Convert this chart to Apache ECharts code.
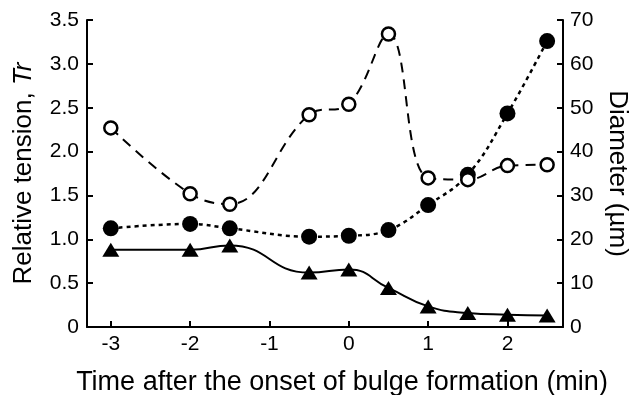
<!DOCTYPE html>
<html>
<head>
<meta charset="utf-8">
<style>
  html, body { margin: 0; padding: 0; background: #fff; }
  #chart { width: 631px; height: 395px; }
</style>
<script src="https://cdn.jsdelivr.net/npm/echarts@6/dist/echarts.min.js"></script>
</head>
<body>
<div id="chart"></div>
<script>
// time after onset (min)
const times = [-3, -2, -1.5, -0.5, 0, 0.5, 1, 1.5, 2, 2.5];
// relative tension Tr (open circles, left axis)
const tension = [2.27, 1.52, 1.40, 2.42, 2.54, 3.34, 1.70, 1.68, 1.84, 1.85];
// diameters in um (right axis)
const bulgeDiameter = [22.5, 23.5, 22.5, 20.6, 20.8, 22.1, 27.8, 34.7, 48.7, 65.2];
const neckDiameter = [17.6, 17.6, 18.6, 12.4, 13.1, 8.9, 4.7, 3.2, 2.8, 2.6];

const xTicks = [-3, -2, -1, 0, 1, 2];
const leftTicks = [0, 0.5, 1, 1.5, 2, 2.5, 3, 3.5];
const rightTicks = [0, 10, 20, 30, 40, 50, 60, 70];

const pair = (ys) => times.map((t, i) => [t, ys[i]]);

const font = 'Liberation Sans, Arial, sans-serif';
const axisLine = { show: true, onZero: false, lineStyle: { color: '#000', width: 2 } };
const tick = { show: true, inside: true, length: 6, lineStyle: { color: '#000', width: 2 } };

const chart = echarts.init(document.getElementById('chart'));
chart.setOption({
  animation: false,
  backgroundColor: '#fff',
  grid: { left: 87, right: 68, top: 20, bottom: 68, outerBoundsMode: 'none' },
  xAxis: {
    type: 'value',
    min: -3.3,
    max: 2.7,
    axisLine: axisLine,
    axisTick: { ...tick, customValues: xTicks },
    splitLine: { show: false },
    axisLabel: {
      customValues: xTicks,
      color: '#000', fontFamily: font, fontSize: 21, margin: 7,
      formatter: (v) => String(v)
    },
    name: 'Time after the onset of bulge formation (min)',
    nameLocation: 'middle',
    nameGap: 42,
    nameTextStyle: { color: '#000', fontFamily: font, fontSize: 27, padding: [0, 0, 0, 34] }
  },
  yAxis: [
    {
      type: 'value',
      min: 0, max: 3.5,
      axisLine: axisLine,
      axisTick: { ...tick, customValues: leftTicks },
      splitLine: { show: false },
      axisLabel: {
        customValues: leftTicks,
        color: '#000', fontFamily: font, fontSize: 21, margin: 8,
        formatter: (v) => (v === 0 ? '0' : v.toFixed(1))
      },
      name: '{n|Relative tension, }{i|Tr}',
      nameLocation: 'middle',
      nameGap: 50,
      nameTextStyle: {
        rich: {
          n: { color: '#000', fontFamily: font, fontSize: 26 },
          i: { color: '#000', fontFamily: font, fontSize: 26, fontStyle: 'italic' }
        }
      }
    },
    {
      type: 'value',
      min: 0, max: 70,
      position: 'right',
      axisLine: axisLine,
      axisTick: { ...tick, customValues: rightTicks },
      splitLine: { show: false },
      axisLabel: {
        customValues: rightTicks,
        color: '#000', fontFamily: font, fontSize: 21, margin: 7
      },
      name: 'Diameter (µm)',
      nameLocation: 'middle',
      nameGap: 41,
      nameRotate: -90,
      nameTextStyle: { color: '#000', fontFamily: font, fontSize: 26 }
    }
  ],
  series: [
    {
      type: 'line',
      yAxisIndex: 1,
      data: pair(neckDiameter),
      smooth: 0.5,
      symbol: 'triangle',
      symbolSize: [17, 14],
      itemStyle: { color: '#000' },
      lineStyle: { color: '#000', width: 2 }
    },
    {
      type: 'line',
      yAxisIndex: 1,
      data: pair(bulgeDiameter),
      smooth: 0.4,
      symbol: 'circle',
      symbolSize: 16,
      itemStyle: { color: '#000' },
      lineStyle: { color: '#000', width: 2.5, type: [4, 4] }
    },
    {
      type: 'line',
      yAxisIndex: 0,
      data: pair(tension),
      smooth: 0.4,
      symbol: 'circle',
      symbolSize: 13,
      itemStyle: { color: '#fff', borderColor: '#000', borderWidth: 2.5 },
      lineStyle: { color: '#000', width: 2, type: [10, 7] }
    }
  ]
});
</script>
</body>
</html>
